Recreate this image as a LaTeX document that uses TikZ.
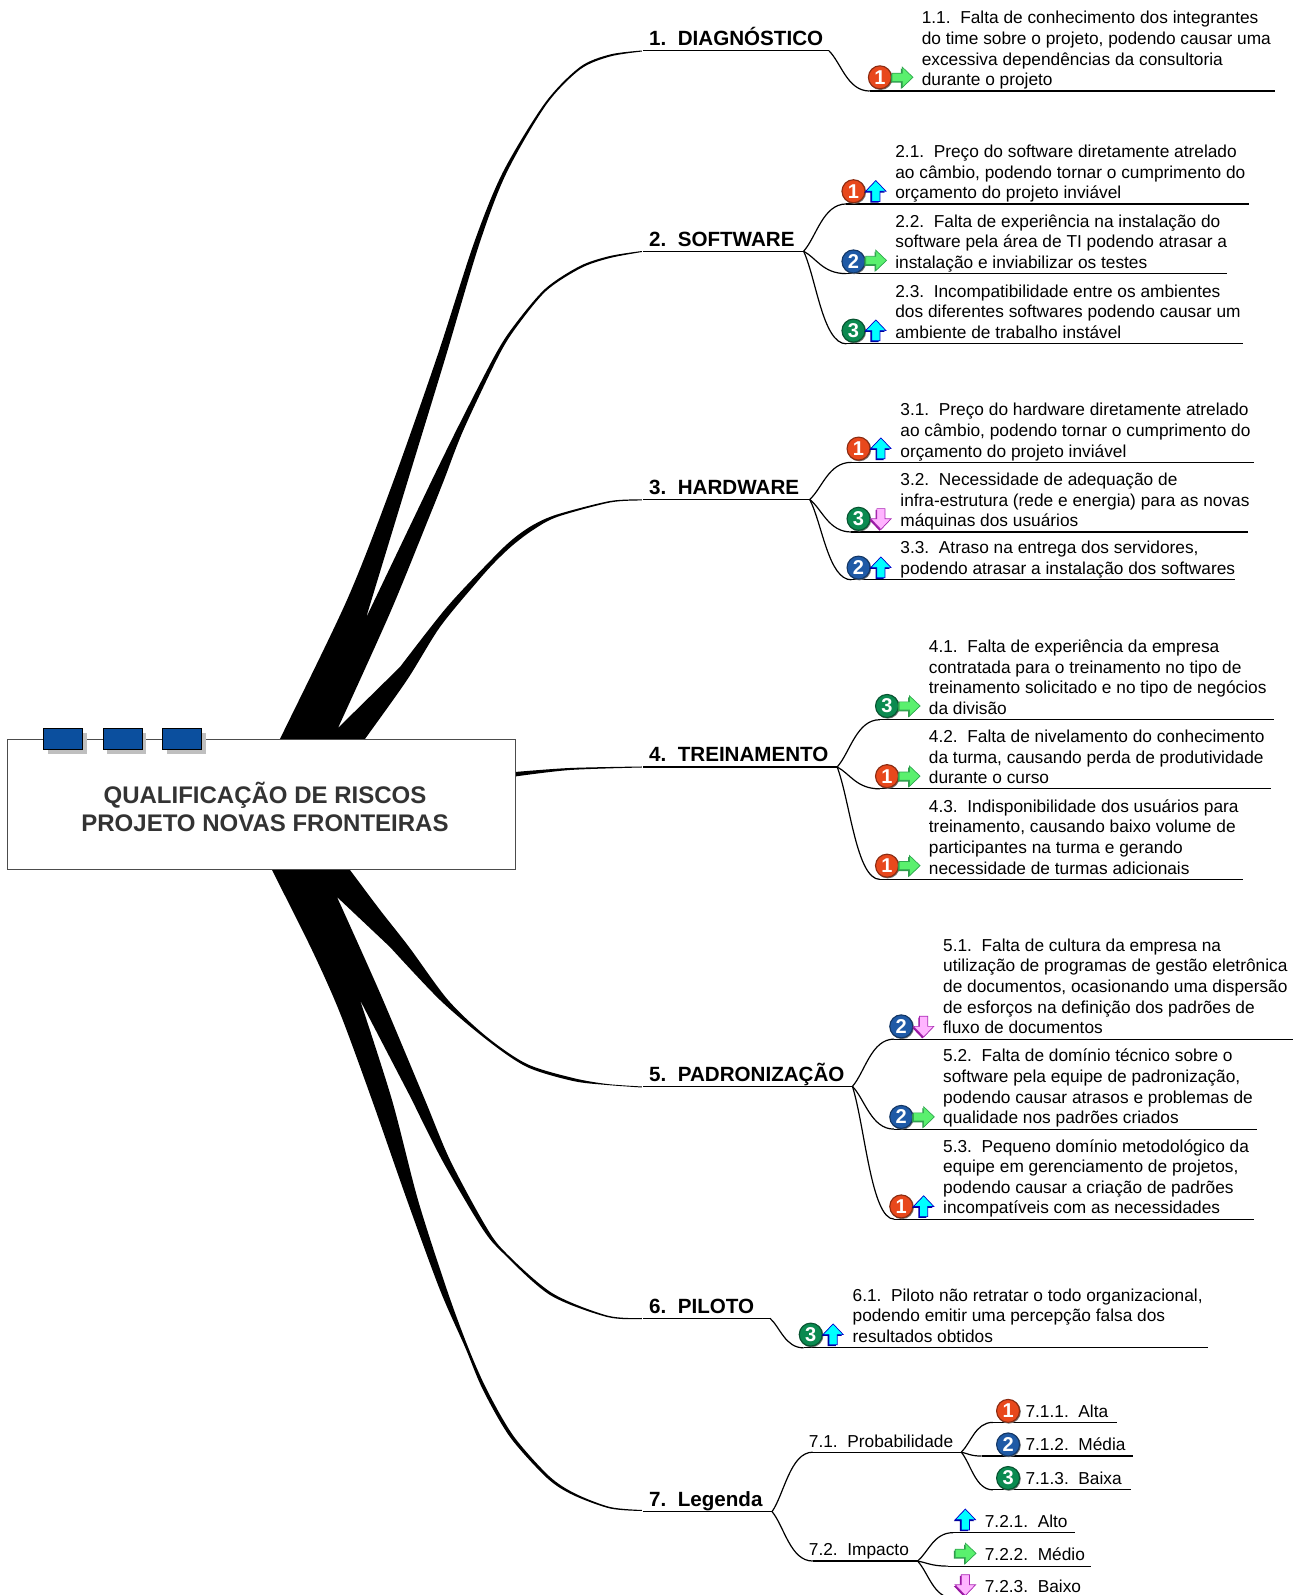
\documentclass[tikz,border=0pt]{standalone}
\usepackage{fontspec}
\setmainfont{Liberation Sans}
\usetikzlibrary{calc,shadows}
\definecolor{cred}{HTML}{E8481C}
\definecolor{cblue}{HTML}{1F5AA6}
\definecolor{cgreen}{HTML}{0B8A50}
\definecolor{tabblue}{HTML}{0B4F9E}
\definecolor{upfill}{HTML}{00FFFF}
\definecolor{upline}{HTML}{0000CC}
\definecolor{upshade}{HTML}{000099}
\definecolor{rfill}{HTML}{5AF06E}
\definecolor{rline}{HTML}{2FA84F}
\definecolor{rshade}{HTML}{2F9A4C}
\definecolor{dfill}{HTML}{FFB4FF}
\definecolor{dline}{HTML}{AA28B4}
\definecolor{dshade}{HTML}{9614A0}
\tikzset{
  under/.style={line width=1.2pt,black},
  conn/.style={line width=1.2pt,black},
  risk/.style={font=\fontsize{17.3}{20.65}\selectfont,align=left,inner sep=0pt,text depth=5pt},
  topic/.style={font=\fontsize{20.6}{24}\selectfont\bfseries,inner sep=0pt,text depth=5pt},
  mainbox/.style={draw=black!70,fill=white,line width=1pt,minimum width=508.6pt,minimum height=130.2pt,inner sep=0pt},
  maintitle/.style={font=\fontsize{24}{27.6}\selectfont\bfseries,text=black!80,align=center,inner sep=0pt},
  tabnode/.style={draw=black,fill=tabblue,line width=1pt,minimum width=39pt,minimum height=21pt,inner sep=0pt,
    drop shadow={shadow xshift=4pt,shadow yshift=-4pt,fill=black!25,opacity=1}},
  badge/.style={circle,minimum size=23pt,inner sep=0pt,line width=1.1pt,text=white,
    font=\fontsize{20}{20}\selectfont\bfseries},
  pics/uparr/.style={code={
    \fill[upshade] (-1.3,-9.2)--(8.7,1.3)--(2.7,1.3)--(2.7,11.3)--(-5.3,11.3)--(-5.3,1.3)--(-11.3,1.3)--cycle;
    \draw[fill=upfill,draw=upline,line width=.7pt] (0,-10.5)--(10,0)--(4,0)--(4,10)--(-4,10)--(-4,0)--(-10,0)--cycle;}},
  pics/rightarr/.style={code={
    \fill[rshade] (9.2,1.3)--(-1.3,11.3)--(-1.3,5.3)--(-11.3,5.3)--(-11.3,-2.7)--(-1.3,-2.7)--(-1.3,-8.7)--cycle;
    \draw[fill=rfill,draw=rline,line width=.7pt] (10.5,0)--(0,-10)--(0,-4)--(-10,-4)--(-10,4)--(0,4)--(0,10)--cycle;}},
  pics/downarr/.style={code={
    \fill[dshade] (-1.3,11.8)--(8.7,1.3)--(2.7,1.3)--(2.7,-8.7)--(-5.3,-8.7)--(-5.3,1.3)--(-11.3,1.3)--cycle;
    \draw[fill=dfill,draw=dline,line width=.7pt] (0,10.5)--(10,0)--(4,0)--(4,-10)--(-4,-10)--(-4,0)--(-10,0)--cycle;}},
}
% name, line start, line end, line y, text x, text
\newcommand\riskline[6]{%
  \coordinate (#1-a) at (#2,#4);
  \coordinate (#1-b) at (#3,#4);
  \draw[under] (#1-a) -- (#1-b);
  \node[risk,anchor=south west] (#1) at (#5,#4) {#6};}
\newcommand\topicline[6]{%
  \coordinate (#1-a) at (#2,#4);
  \coordinate (#1-b) at (#3,#4);
  \draw[under] (#1-a) -- (#1-b);
  \node[topic,anchor=south west] (#1) at (#5,#4) {#6};}
\newcommand\conn[2]{%
  \draw[conn] let \p1=(#1),\p2=(#2) in (#1) .. controls ({\x1+0.3*(\x2-\x1)},{\y1+0.3*(\y2-\y1)}) and ({\x1+0.45*(\x2-\x1)},\y2) .. (#2);}
\newcommand\ball[5]{% name colour number x y
  \fill[black!55] (#4+0.7,#5+0.7) circle (12pt);
  \node[badge,fill=#2,draw=#2!60!black] (#1) at (#4,#5) {#3};}
\begin{document}
\begin{tikzpicture}[x=1.01724pt,y=-1.01724pt]
\clip (0,0) rectangle (1276,1568);
\fill[white] (0,0) rectangle (1276,1568);
% thick branches (in full-size pixel coordinates)
\begin{scope}[x=1pt,y=-1pt]
\fill[black]
  plot[smooth,tension=.5] coordinates {(270,760)(280,739)(347,600)(392,485)(437,357)(474,243)(503,172)(545,103)(580,67)(610,54.5)(642,50.5)}
  -- plot[smooth,tension=.5] coordinates {(642,51.5)(610,56.5)(580,69.5)(546,105)(506,174)(479,245)(445,359)(408,480)(366,618)}
  -- plot[smooth,tension=.5] coordinates {(432,480)(458,427)(494,357)(513,327)(545,289)(580,266)(610,256)(642,251)}
  -- plot[smooth,tension=.5] coordinates {(642,252)(610,258)(581,268)(546,291)(515,329)(497,359)(463,431)(444,480)(428,520)(390,613)(338,728)}
  -- plot[smooth,tension=.5] coordinates {(400,667)(447,607)(493,558)(513,539)(533,525)(557,514.5)(610,501)(642,499.5)}
  -- plot[smooth,tension=.5] coordinates {(642,500.5)(610,502.5)(557,517)(533,530)(513,545)(495,562)(477,582)(440,627)(407,680)(365,739)(350,760)}
  -- cycle;
\fill[black]
  plot[smooth,tension=.5] coordinates {(515,772)(570,768)(642,766.5)}
  -- plot[smooth,tension=.5] coordinates {(642,767.5)(570,770)(515,776.5)} -- cycle;
\fill[black]
  plot[smooth,tension=.5] coordinates {(262,850)(272,870)(312,950)(340,1013)(372,1100)(407,1200)(440,1290)(465,1347)(483,1390)(510,1437)(547,1478)(573,1495)(610,1508.5)(642,1511)}
  -- plot[smooth,tension=.5] coordinates {(642,1510)(610,1507)(575,1493.5)(549,1476)(513.5,1436)(487,1390)(468,1347)(447,1290)(418,1200)(392,1100)(360,1000)}
  -- plot[smooth,tension=.5] coordinates {(412,1100)(442,1160)(482,1228)(503,1253)(550,1295)(607,1317)(642,1319)}
  -- plot[smooth,tension=.5] coordinates {(642,1318)(607,1315.5)(552,1293)(505,1252)(485,1225)(450,1160)(425,1100)(380,993)(337,897)}
  -- plot[smooth,tension=.5] coordinates {(390,947)(440,1000)(487,1040)(527,1067)(573,1081)(607,1085)(642,1087.5)}
  -- plot[smooth,tension=.5] coordinates {(642,1086.5)(607,1084)(573,1078)(527,1064)(487,1037)(448,1000)(409,947)(380,910)(350,870)(335,850)}
  -- cycle;
\end{scope}
% central box
\node[mainbox] (root) at (257,791) {};
\node[tabnode] (tab1) at (62,726.5) {};
\node[tabnode] (tab2) at (120.5,726.5) {};
\node[tabnode] (tab3) at (179,726.5) {};
\node[maintitle] (ttl) at (260.5,793) {QUALIFICAÇÃO DE RISCOS\\PROJETO NOVAS FRONTEIRAS};
% topics
\topicline{t1}{632}{815}{50}{638}{1.~~DIAGNÓSTICO}
\topicline{t2}{632}{790}{247}{638}{2.~~SOFTWARE}
\topicline{t3}{632}{796}{491}{638}{3.~~HARDWARE}
\topicline{t4}{632}{823}{754}{638}{4.~~TREINAMENTO}
\topicline{t5}{632}{838}{1068}{638}{5.~~PADRONIZAÇÃO}
\topicline{t6}{632}{757}{1296}{638}{6.~~PILOTO}
\topicline{t7}{632}{759}{1486}{638}{7.~~Legenda}
% risks
\riskline{r11}{855}{1253}{89.5}{906}{1.1.~~Falta de conhecimento dos integrantes\\do time sobre o projeto, podendo causar uma\\excessiva dependências da consultoria\\durante o projeto}
\riskline{r21}{832}{1228}{200.5}{880}{2.1.~~Preço do software diretamente atrelado\\ao câmbio, podendo tornar o cumprimento do\\orçamento do projeto inviável}
\riskline{r22}{832}{1206}{269}{880}{2.2.~~Falta de experiência na instalação do\\software pela área de TI podendo atrasar a\\instalação e inviabilizar os testes}
\riskline{r23}{832}{1222}{338}{880}{2.3.~~Incompatibilidade entre os ambientes\\dos diferentes softwares podendo causar um\\ambiente de trabalho instável}
\riskline{r31}{837}{1233}{454.5}{885}{3.1.~~Preço do hardware diretamente atrelado\\ao câmbio, podendo tornar o cumprimento do\\orçamento do projeto inviável}
\riskline{r32}{837}{1227}{523}{885}{3.2.~~Necessidade de adequação de\\infra-estrutura (rede e energia) para as novas\\máquinas dos usuários}
\riskline{r33}{837}{1214}{570}{885}{3.3.~~Atraso na entrega dos servidores,\\podendo atrasar a instalação dos softwares}
\riskline{r41}{865}{1252}{707.5}{913}{4.1.~~Falta de experiência da empresa\\contratada para o treinamento no tipo de\\treinamento solicitado e no tipo de negócios\\da divisão}
\riskline{r42}{865}{1249}{775.5}{913}{4.2.~~Falta de nivelamento do conhecimento\\da turma, causando perda de produtividade\\durante o curso}
\riskline{r43}{865}{1222}{864.5}{913}{4.3.~~Indisponibilidade dos usuários para\\treinamento, causando baixo volume de\\participantes na turma e gerando\\necessidade de turmas adicionais}
\riskline{r51}{879}{1271}{1021.5}{927}{5.1.~~Falta de cultura da empresa na\\utilização de programas de gestão eletrônica\\de documentos, ocasionando uma dispersão\\de esforços na definição dos padrões de\\fluxo de documentos}
\riskline{r52}{879}{1236}{1110}{927}{5.2.~~Falta de domínio técnico sobre o\\software pela equipe de padronização,\\podendo causar atrasos e problemas de\\qualidade nos padrões criados}
\riskline{r53}{879}{1233}{1198.5}{927}{5.3.~~Pequeno domínio metodológico da\\equipe em gerenciamento de projetos,\\podendo causar a criação de padrões\\incompatíveis com as necessidades}
\riskline{r61}{790}{1188}{1325}{838}{6.1.~~Piloto não retratar o todo organizacional,\\podendo emitir uma percepção falsa dos\\resultados obtidos}
\riskline{r71}{799}{945}{1427.6}{795}{7.1.~~Probabilidade}
\riskline{r72}{799}{902}{1534.6}{795}{7.2.~~Impacto}
\riskline{r711}{976}{1098}{1398.3}{1008}{7.1.1.~~Alta}
\riskline{r712}{965}{1114}{1431.4}{1008}{7.1.2.~~Média}
\riskline{r713}{976}{1112}{1464.6}{1008}{7.1.3.~~Baixa}
\riskline{r721}{937}{1057}{1506.7}{968}{7.2.1.~~Alto}
\riskline{r722}{932}{1073}{1539.6}{968}{7.2.2.~~Médio}
\riskline{r723}{937}{1070}{1571}{968}{7.2.3.~~Baixo}
% connectors
\conn{t1-b}{r11-a}
\conn{t2-b}{r21-a}\conn{t2-b}{r22-a}\conn{t2-b}{r23-a}
\conn{t3-b}{r31-a}\conn{t3-b}{r32-a}\conn{t3-b}{r33-a}
\conn{t4-b}{r41-a}\conn{t4-b}{r42-a}\conn{t4-b}{r43-a}
\conn{t5-b}{r51-a}\conn{t5-b}{r52-a}\conn{t5-b}{r53-a}
\conn{t6-b}{r61-a}
\conn{t7-b}{r71-a}\conn{t7-b}{r72-a}
\conn{r71-b}{r711-a}\conn{r71-b}{r712-a}\conn{r71-b}{r713-a}
\conn{r72-b}{r721-a}\conn{r72-b}{r722-a}\conn{r72-b}{r723-a}
% icons
\ball{b11}{cred}{1}{865}{76}     \pic (a11) at (887,76) {rightarr};
\ball{b21}{cred}{1}{839}{188}    \pic (a21) at (861,188) {uparr};
\ball{b22}{cblue}{2}{839}{257}   \pic (a22) at (861,256) {rightarr};
\ball{b23}{cgreen}{3}{839}{325}  \pic (a23) at (861,325) {uparr};
\ball{b31}{cred}{1}{844}{441}    \pic (a31) at (866,441) {uparr};
\ball{b32}{cgreen}{3}{844}{510}  \pic (a32) at (866,510) {downarr};
\ball{b33}{cblue}{2}{844}{558}   \pic (a33) at (866,558) {uparr};
\ball{b41}{cgreen}{3}{872}{694}  \pic (a41) at (894,694) {rightarr};
\ball{b42}{cred}{1}{872}{763}    \pic (a42) at (894,763) {rightarr};
\ball{b43}{cred}{1}{872}{851}    \pic (a43) at (894,851) {rightarr};
\ball{b51}{cblue}{2}{886}{1009}  \pic (a51) at (908,1009) {downarr};
\ball{b52}{cblue}{2}{886}{1098}  \pic (a52) at (908,1098) {rightarr};
\ball{b53}{cred}{1}{886}{1186}   \pic (a53) at (908,1186) {uparr};
\ball{b61}{cgreen}{3}{797}{1312} \pic (a61) at (819,1312) {uparr};
\ball{b711}{cred}{1}{991}{1387}
\ball{b712}{cblue}{2}{991}{1420}
\ball{b713}{cgreen}{3}{991}{1453}
\pic (a721) at (949,1494) {uparr};
\pic (a722) at (949,1527) {rightarr};
\pic (a723) at (949,1558) {downarr};
\end{tikzpicture}
\end{document}
